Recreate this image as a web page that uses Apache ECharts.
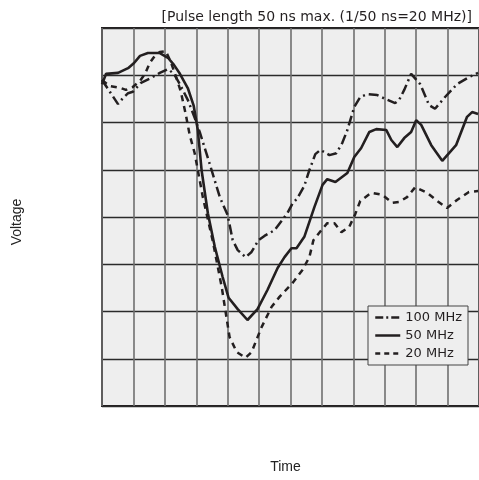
<!DOCTYPE html>
<html>
<head>
<meta charset="utf-8">
<script src="https://cdn.jsdelivr.net/npm/echarts@6/dist/echarts.min.js"></script>
<style>
  html, body { margin: 0; padding: 0; background: #ffffff; }
  #chart { width: 479px; height: 480px; }
</style>
</head>
<body>
<div id="chart"></div>
<script>
// Oscilloscope-style trace: time and voltage in grid divisions
const titleText = '[Pulse length 50 ns max. (1/50 ns=20 MHz)]';
const xName = 'Time';
const yName = 'Voltage';
const seriesNames = ['100 MHz', '50 MHz', '20 MHz'];

// 100 MHz response
const t100 = [0.00,0.25,0.51,0.67,0.83,0.98,1.24,1.56,1.84,2.10,2.29,2.48,2.73,2.95,3.11,3.27,3.43,3.75,4.00,4.16,4.32,4.57,4.76,4.98,5.17,5.49,5.90,6.06,6.22,6.44,6.60,6.79,6.95,7.24,7.46,7.65,7.81,8.03,8.22,8.44,8.76,9.08,9.33,9.46,9.62,9.84,10.13,10.41,10.60,10.92,11.30,11.68,11.97];
const v100 = [6.90,6.65,6.39,6.52,6.62,6.65,6.84,6.94,7.05,7.13,7.03,6.81,6.48,6.10,5.80,5.46,5.12,4.42,4.04,3.51,3.30,3.15,3.26,3.51,3.60,3.72,4.08,4.28,4.40,4.66,4.99,5.33,5.42,5.31,5.35,5.57,5.84,6.33,6.54,6.60,6.58,6.48,6.41,6.48,6.69,7.03,6.81,6.37,6.29,6.54,6.81,6.96,7.05];

// 50 MHz response
const t50 = [0.00,0.13,0.51,0.83,1.02,1.21,1.46,1.84,2.10,2.29,2.48,2.73,2.92,3.05,3.17,3.37,3.59,3.84,4.03,4.32,4.63,4.95,5.27,5.59,5.81,6.03,6.19,6.44,6.76,7.02,7.17,7.43,7.81,8.03,8.25,8.51,8.73,9.05,9.21,9.40,9.62,9.84,10.00,10.16,10.48,10.83,11.27,11.62,11.78,11.97];
const v50 = [6.81,7.03,7.05,7.15,7.26,7.41,7.47,7.47,7.37,7.22,7.03,6.73,6.35,5.84,4.99,4.08,3.37,2.73,2.29,2.05,1.82,2.05,2.46,2.92,3.15,3.34,3.34,3.58,4.21,4.68,4.80,4.74,4.93,5.27,5.46,5.80,5.86,5.84,5.63,5.48,5.67,5.80,6.05,5.95,5.52,5.19,5.52,6.12,6.22,6.18];

// 20 MHz response
const t20 = [0.00,0.25,0.60,0.76,0.98,1.21,1.37,1.52,1.68,1.84,2.03,2.19,2.35,2.51,2.67,2.79,2.95,3.21,3.52,3.81,4.06,4.29,4.57,4.76,5.08,5.40,5.65,6.06,6.38,6.60,6.73,6.98,7.17,7.40,7.62,7.87,8.06,8.22,8.57,8.92,9.24,9.46,9.71,9.97,10.35,10.67,10.98,11.30,11.68,11.97];
const v20 = [6.90,6.77,6.73,6.69,6.75,6.88,7.03,7.26,7.41,7.49,7.51,7.28,6.98,6.65,6.16,5.74,5.35,4.42,3.51,2.52,1.46,1.14,1.02,1.14,1.67,2.10,2.31,2.60,2.88,3.15,3.51,3.72,3.87,3.87,3.68,3.79,4.06,4.34,4.51,4.47,4.30,4.32,4.42,4.63,4.51,4.34,4.19,4.36,4.53,4.55];

const ink = '#231f20';
const dashDot = [10, 4, 2, 4];
const dashed = [6, 5];

function pairs(xs, ys) { return xs.map((x, i) => [x, ys[i]]); }

// legend entries show only the line pattern, no marker
const hideMarker = { opacity: 0 };

const chart = echarts.init(document.getElementById('chart'), null, { renderer: 'canvas' });
chart.setOption({
  animation: false,
  backgroundColor: '#ffffff',
  title: {
    text: titleText,
    right: 2,
    top: 5,
    textStyle: { fontFamily: 'DejaVu Sans', fontSize: 14, fontWeight: 'normal', color: ink }
  },
  grid: {
    left: 102, top: 28, width: 378, height: 378,
    show: true, backgroundColor: '#eeeeee', borderColor: ink, borderWidth: 2
  },
  xAxis: {
    type: 'value', min: 0, max: 12, interval: 1,
    name: xName, nameLocation: 'middle', nameGap: 54,
    nameTextStyle: { fontFamily: 'Liberation Sans', fontSize: 14, color: '#222', padding: [0, 10, 0, 0] },
    axisLine: { show: false }, axisTick: { show: false }, axisLabel: { show: false },
    splitLine: { show: true, lineStyle: { color: '#6f6f6f', width: 1.6 } }
  },
  yAxis: {
    type: 'value', min: 0, max: 8, interval: 1,
    name: yName, nameLocation: 'middle', nameGap: 78,
    nameTextStyle: { fontFamily: 'Liberation Sans', fontSize: 14, color: '#222', padding: [0, 10, 0, 0] },
    axisLine: { show: false }, axisTick: { show: false }, axisLabel: { show: false },
    splitLine: { show: true, lineStyle: { color: '#2a2a2a', width: 1.4 } }
  },
  legend: {
    orient: 'vertical',
    left: 368, top: 306,
    padding: [5, 6],
    itemGap: 5,
    itemWidth: 25, itemHeight: 14,
    backgroundColor: '#eeeeee',
    borderColor: '#444', borderWidth: 1,
    textStyle: { fontFamily: 'DejaVu Sans', fontSize: 13, color: ink },
    itemStyle: hideMarker,
    data: [
      { name: seriesNames[0], itemStyle: hideMarker, lineStyle: { type: [8, 3, 2, 3], width: 2.5 } },
      { name: seriesNames[1], itemStyle: hideMarker, lineStyle: { type: 'solid', width: 2.5 } },
      { name: seriesNames[2], itemStyle: hideMarker, lineStyle: { type: [5, 4], width: 2.5 } }
    ]
  },
  series: [
    {
      name: seriesNames[0], type: 'line', symbol: 'none', data: pairs(t100, v100),
      lineStyle: { color: ink, width: 2.5, type: dashDot }, itemStyle: { color: ink }
    },
    {
      name: seriesNames[1], type: 'line', symbol: 'none', data: pairs(t50, v50),
      lineStyle: { color: ink, width: 2.6, type: 'solid' }, itemStyle: { color: ink }
    },
    {
      name: seriesNames[2], type: 'line', symbol: 'none', data: pairs(t20, v20),
      lineStyle: { color: ink, width: 2.5, type: dashed }, itemStyle: { color: ink }
    }
  ]
});
</script>
</body>
</html>
